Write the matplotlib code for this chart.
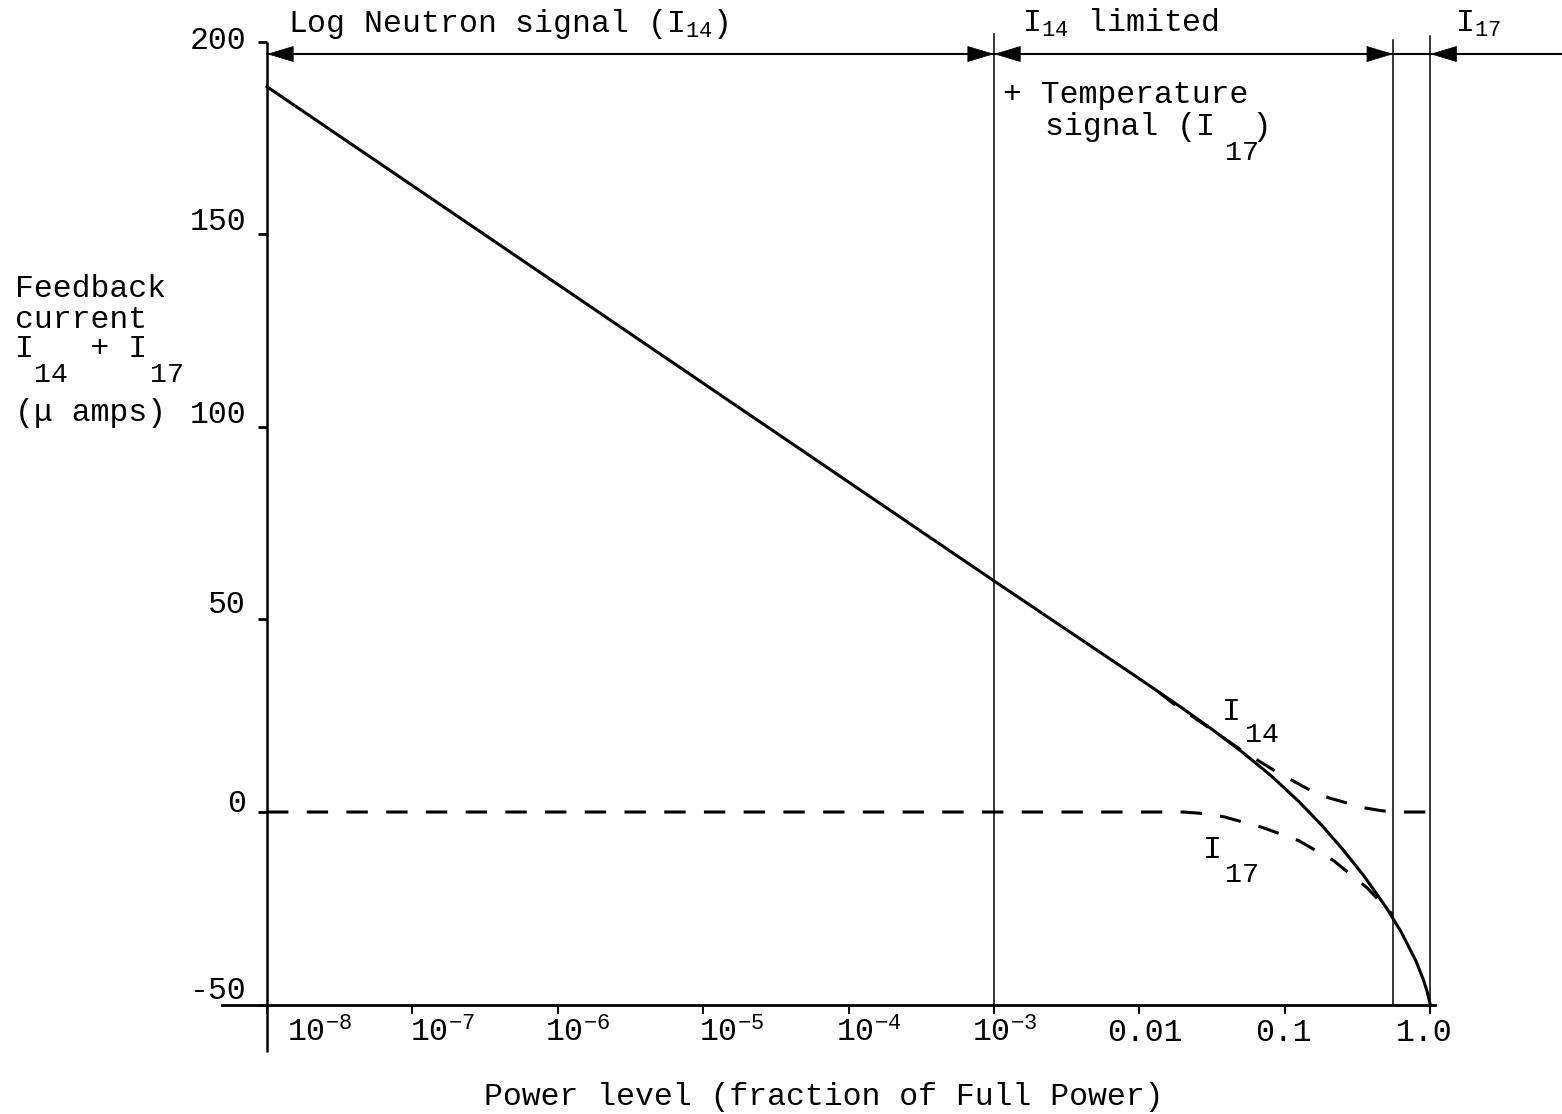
import matplotlib
matplotlib.use('Agg')
import matplotlib.pyplot as plt
from matplotlib.ticker import NullLocator
from matplotlib.transforms import ScaledTranslation

W, H = 1562, 1114
FONT = 'Liberation Mono'
plt.rcParams['font.family'] = [FONT, 'DejaVu Sans']
plt.rcParams['mathtext.fontset'] = 'custom'
plt.rcParams['mathtext.rm'] = FONT
plt.rcParams['mathtext.it'] = FONT
plt.rcParams['mathtext.bf'] = FONT
plt.rcParams['mathtext.default'] = 'regular'
FS = 22.7

# ---------------- data ----------------
power_total = [1e-8, 1e-3, 0.01, 0.02, 0.032, 0.05, 0.08, 0.125, 0.18, 0.25,
               0.35, 0.5, 0.63, 0.8, 0.9, 0.95, 1.0]
current_total = [188.3, 60.0, 34.6, 26.8, 21.3, 15.8, 9.5, 2.7, -3.5, -9.7,
                 -16.6, -24.9, -31.1, -38.8, -43.7, -46.5, -50.0]

power_i14 = [0.0135, 0.0165, 0.03, 0.05, 0.087, 0.152, 0.2, 0.27, 0.35, 0.47, 0.56, 1.0]
current_i14 = [31.2, 28.6, 21.9, 16.1, 10.5, 5.5, 3.7, 2.3, 1.1, 0.3, 0.0, 0.0]

power_i17 = [1e-8, 0.02, 0.03, 0.0386, 0.07, 0.124, 0.216, 0.366, 0.552]
current_i17 = [0.0, 0.0, -0.5, -1.3, -4.0, -7.4, -12.6, -19.6, -26.7]

region_bounds = [1e-8, 1e-3, 0.556, 1.0]
region_arrow_level = 196.8

xtick_values = [1e-8, 1e-7, 1e-6, 1e-5, 1e-4, 1e-3, 1e-2, 1e-1, 1.0]
xtick_labels = [r'$10^{-8}$', r'$10^{-7}$', r'$10^{-6}$', r'$10^{-5}$', r'$10^{-4}$',
                r'$10^{-3}$', '0.01', '0.1', '1.0']
ytick_values = [-50, 0, 50, 100, 150, 200]
ytick_labels = ['-50', '0', '50', '100', '150', '200']

# typewriter placement offsets of tick labels (pixels)
xlabel_shift = [53, 30, 20, 28, 20, 11, 5, -1, -6]
ylabel_shift = [17, 12, 18, 15, 16, 4]

# ---------------- figure ----------------
fig = plt.figure(figsize=(W / 100, H / 100), dpi=100)
ax_left, ax_top, ax_bot = 267, 41.7, 1004.6
ax = fig.add_axes([ax_left / W, 1 - ax_bot / H, (W - ax_left) / W, (ax_bot - ax_top) / H])
ax.set_xscale('log')
ax.set_xlim(1e-8, 10 ** 0.906)
ax.set_ylim(-50, 200)
for s in ax.spines.values():
    s.set_visible(False)
ax.xaxis.set_minor_locator(NullLocator())

ax.set_xticks(xtick_values, xtick_labels)
ax.set_yticks(ytick_values, ytick_labels)
ax.tick_params(axis='x', direction='out', length=6.5, width=1.4, pad=3,
               labelsize=FS, colors='k')
ax.tick_params(axis='y', direction='out', length=6.5, width=2.0, pad=8.6,
               labelsize=FS, colors='k')
for lab, dx in zip(ax.get_xticklabels(), xlabel_shift):
    lab.set_transform(lab.get_transform() + ScaledTranslation(dx / 100, 0, fig.dpi_scale_trans))
for lab, dy in zip(ax.get_yticklabels(), ylabel_shift):
    lab.set_transform(lab.get_transform() + ScaledTranslation(0, dy / 100, fig.dpi_scale_trans))

# axis lines (typed/drawn beyond the plotting box)
ax.plot([1e-8, 1e-8], [-62.2, 200], color='k', lw=1.8, clip_on=False, solid_capstyle='butt')
ax.plot([10 ** -8.31, 10 ** 0.035], [-50, -50], color='k', lw=2.0, clip_on=False)

# region boundaries and arrow line at the top
ax.plot([1e-8, 10 ** 0.906], [region_arrow_level] * 2, color='k', lw=1.5, clip_on=False)
tops = [None, 202.0, 200.5, 201.5]
for b, t in zip(region_bounds[1:], tops[1:]):
    ax.plot([b, b], [-50, t], color='k', lw=1.1, clip_on=False)


def arrow(x, side):
    ax.annotate('', xy=(x, region_arrow_level), xycoords='data',
                xytext=(side * 18, 0), textcoords='offset points',
                arrowprops=dict(arrowstyle='-|>,head_length=0.9,head_width=0.27',
                                mutation_scale=20, fc='k', ec='k', lw=0.5,
                                shrinkA=0, shrinkB=0),
                annotation_clip=False)


arrow(region_bounds[0], +1)
arrow(region_bounds[1], -1)
arrow(region_bounds[1], +1)
arrow(region_bounds[2], -1)
arrow(region_bounds[3], +1)

# curves
ax.plot(power_total, current_total, color='k', lw=2.2, clip_on=False,
        solid_joinstyle='round')
ax.plot(power_i14, current_i14, color='k', lw=2.2, dashes=(7, 6), clip_on=False)
ax.plot(power_i17, current_i17, color='k', lw=2.2, dashes=(7, 6), clip_on=False)


# ---------------- texts ----------------
def ftext(x, y, s, size=FS, **kw):
    fig.text(x / W, 1 - y / H, s, fontsize=size, ha='left', va='baseline', color='k', **kw)


ftext(288, 32, r'Log Neutron signal (I$_{14}$)')
ftext(1022, 32, r'I$_{14}$ limited')
ftext(1455, 32, r'I$_{17}$')
ftext(1003, 103, '+ Temperature')
ftext(1045, 135, 'signal (I  )')
ftext(1225, 160, '17', size=FS * 0.9)

ftext(15, 297, 'Feedback')
ftext(15, 328, 'current')
ftext(15, 357, 'I   + I')
ftext(34, 382, '14', size=FS * 0.9)
ftext(150, 382, '17', size=FS * 0.9)
ftext(15, 421, '(μ amps)')

ftext(1222, 720, 'I')
ftext(1245, 742, '14', size=FS * 0.9)
ftext(1203, 858, 'I')
ftext(1225, 882, '17', size=FS * 0.9)

ftext(484, 1105, 'Power level (fraction of Full Power)')

fig.savefig('out.png', dpi=100, facecolor='white')
